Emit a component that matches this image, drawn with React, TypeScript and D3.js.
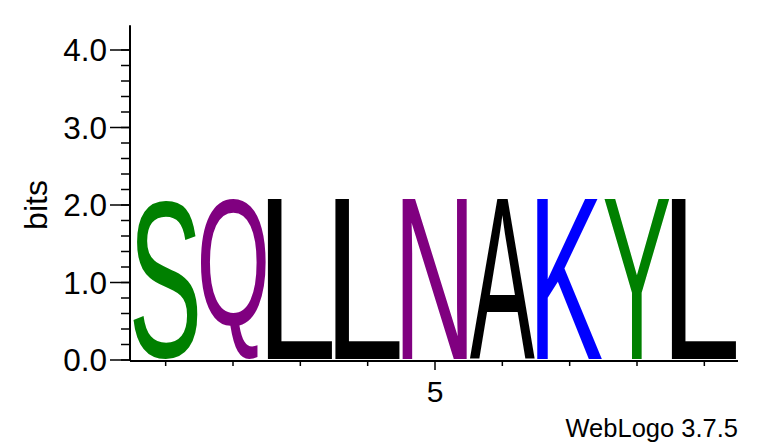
import * as d3 from "d3";
import { useMemo } from "react";

// sequence logo columns (position 1..9)
const positions = [1, 2, 3, 4, 5, 6, 7, 8, 9];
const letters = ["S", "Q", "L", "L", "N", "A", "K", "Y", "L"];
const bits = [2.08, 2.08, 2.08, 2.08, 2.08, 2.08, 2.08, 2.08, 2.08];
const yTicks = [0, 1, 2, 3, 4];
const xLabelled = [5];

// chemistry colour scheme used by WebLogo
const colorOf: Record<string, string> = {
  S: "#008000", Y: "#008000", G: "#008000", T: "#008000", C: "#008000",
  Q: "#800080", N: "#800080",
  K: "#0000ff", R: "#0000ff", H: "#0000ff",
  D: "#ff0000", E: "#ff0000",
  A: "#000000", L: "#000000", I: "#000000", V: "#000000", M: "#000000", F: "#000000", W: "#000000", P: "#000000",
};

const FONT = "'Liberation Sans', Arial, Helvetica, sans-serif";

const width = 760;
const height = 444;
const axisX = 130;
const axisRight = 738;
const y0 = 360;

export default function App() {
  const y = d3.scaleLinear().domain([0, 4]).range([y0, 50]);
  const x = d3.scaleBand<number>().domain(positions).range([axisX + 2, axisRight]).padding(0);
  const yMinor = d3.range(0, 4.01, 0.2);

  // ink bounds of each glyph, so a letter can be stretched to fill its box
  const metrics = useMemo(() => {
    const ctx = document.createElement("canvas").getContext("2d")!;
    ctx.font = `100px ${FONT}`;
    const m: Record<string, { l: number; r: number; a: number; d: number }> = {};
    letters.forEach(ch => {
      const t = ctx.measureText(ch);
      m[ch] = {
        l: t.actualBoundingBoxLeft,
        r: t.actualBoundingBoxRight,
        a: t.actualBoundingBoxAscent,
        d: t.actualBoundingBoxDescent,
      };
    });
    return m;
  }, []);

  return (
    <svg width={width} height={height} style={{ position: "absolute", left: 0, top: 0, background: "#fff" }}
      fontFamily={FONT}>
      {/* letters */}
      {letters.map((ch, i) => {
        const m = metrics[ch];
        const x0 = x(positions[i])! + 1;
        const x1 = x0 + x.bandwidth() - 2;
        const yTop = y(bits[i]);
        const yBot = y0 - 1;
        const sx = (x1 - x0) / (m.l + m.r);
        const sy = (yBot - yTop) / (m.a + m.d);
        return (
          <text key={i} fontSize={100} fill={colorOf[ch]}
            transform={`translate(${x0 + m.l * sx},${yTop + m.a * sy}) scale(${sx},${sy})`}>
            {ch}
          </text>
        );
      })}

      {/* y axis */}
      <line x1={axisX} x2={axisX} y1={y(4.32)} y2={y0 + 1} stroke="#000" strokeWidth={2} />
      {yMinor.map(v => (
        <line key={v} x1={axisX - 9} x2={axisX} y1={y(v)} y2={y(v)} stroke="#000" strokeWidth={1.5} />
      ))}
      {yTicks.map(v => (
        <g key={v}>
          <line x1={axisX - 20} x2={axisX} y1={y(v)} y2={y(v)} stroke="#000" strokeWidth={1.5} />
          <text x={axisX - 23} y={y(v)} dy="0.36em" textAnchor="end" fontSize={31.5}>{v.toFixed(1)}</text>
        </g>
      ))}
      <text transform={`translate(47,${y(2)}) rotate(-90)`} textAnchor="middle" fontSize={32}>bits</text>

      {/* x axis */}
      <line x1={axisX} x2={axisRight} y1={y0 + 1} y2={y0 + 1} stroke="#000" strokeWidth={2} />
      {positions.map(p => {
        const cx = x(p)! + x.bandwidth() / 2;
        const major = xLabelled.includes(p);
        return (
          <g key={p}>
            <line x1={cx} x2={cx} y1={y0 + 1} y2={y0 + (major ? 10 : 6)} stroke="#000" strokeWidth={1.5} />
            {major && <text x={cx} y={y0 + 42} textAnchor="middle" fontSize={30}>{p}</text>}
          </g>
        );
      })}

      <text x={axisRight} y={437} textAnchor="end" fontSize={25.5}>WebLogo 3.7.5</text>
    </svg>
  );
}
